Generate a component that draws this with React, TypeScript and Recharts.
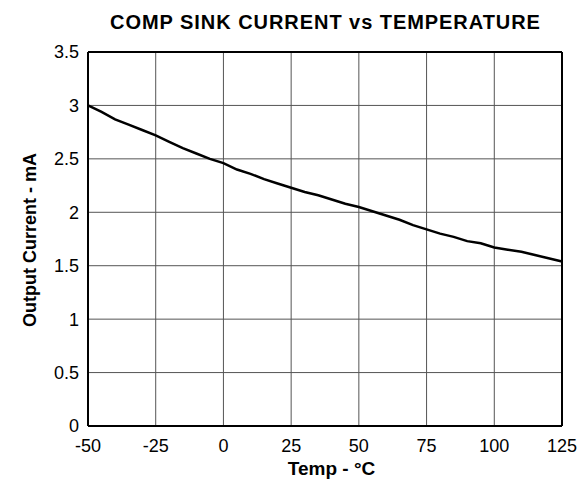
import { LineChart, Line, XAxis, YAxis, CartesianGrid, ReferenceLine } from "recharts";

const temps = [-50, -45, -40, -35, -30, -25, -20, -15, -10, -5, 0, 5, 10, 15, 20, 25, 30, 35, 40, 45, 50, 55, 60, 65, 70, 75, 80, 85, 90, 95, 100, 105, 110, 115, 120, 125];
const current = [3.0, 2.94, 2.87, 2.82, 2.77, 2.72, 2.66, 2.6, 2.55, 2.5, 2.46, 2.4, 2.36, 2.31, 2.27, 2.23, 2.19, 2.16, 2.12, 2.08, 2.05, 2.01, 1.97, 1.93, 1.88, 1.84, 1.8, 1.77, 1.73, 1.71, 1.67, 1.65, 1.63, 1.6, 1.57, 1.54];
const xTicks = [-50, -25, 0, 25, 50, 75, 100, 125];
const yTicks = [0, 0.5, 1, 1.5, 2, 2.5, 3, 3.5];

const data = temps.map((t, i) => ({ temp: t, value: current[i] }));

const font = "'Liberation Sans', Arial, sans-serif";

export default function App() {
  return (
    <div
      style={{
        position: "relative",
        width: 582,
        height: 482,
        overflow: "hidden",
        fontFamily: font,
        background: "#fff",
      }}
    >
      {/* drop the default body margin so the chart can use the whole window */}
      <style>{"html,body{margin:0;padding:0;}"}</style>
      <div
        style={{
          position: "absolute",
          top: 11,
          left: 88,
          width: 475,
          textAlign: "center",
          fontWeight: "bold",
          fontSize: 20,
          letterSpacing: 0.95,
          color: "#000",
        }}
      >
        COMP SINK CURRENT vs TEMPERATURE
      </div>
      <LineChart
        width={582}
        height={482}
        data={data}
        margin={{ top: 52, right: 20, left: 8, bottom: 8 }}
      >
        <CartesianGrid stroke="#555" strokeWidth={1} />
        <XAxis
          dataKey="temp"
          type="number"
          domain={[-50, 125]}
          ticks={xTicks}
          tickLine={false}
          axisLine={{ stroke: "#000", strokeWidth: 2 }}
          tick={{ fill: "#000", fontSize: 18, fontFamily: font }}
          tickMargin={7}
          height={48}
          interval={0}
        />
        <YAxis
          type="number"
          domain={[0, 3.5]}
          ticks={yTicks}
          tickLine={false}
          axisLine={{ stroke: "#000", strokeWidth: 2 }}
          tick={{ fill: "#000", fontSize: 18, fontFamily: font }}
          tickMargin={3}
          width={80}
          interval={0}
        />
        <ReferenceLine y={3.5} stroke="#000" strokeWidth={2} />
        <ReferenceLine x={125} stroke="#000" strokeWidth={2} />
        <Line
          type="linear"
          dataKey="value"
          stroke="#000"
          strokeWidth={2.5}
          dot={false}
          isAnimationActive={false}
        />
      </LineChart>
      <div
        style={{
          position: "absolute",
          top: 458,
          left: 94,
          width: 475,
          textAlign: "center",
          fontWeight: "bold",
          fontSize: 19,
          lineHeight: "22px",
          color: "#000",
        }}
      >
        Temp - °C
      </div>
      <div
        style={{
          position: "absolute",
          left: 30,
          top: 240,
          transform: "translate(-50%, -50%) rotate(-90deg)",
          whiteSpace: "nowrap",
          fontWeight: "bold",
          fontSize: 18,
          color: "#000",
        }}
      >
        Output Current - mA
      </div>
    </div>
  );
}
